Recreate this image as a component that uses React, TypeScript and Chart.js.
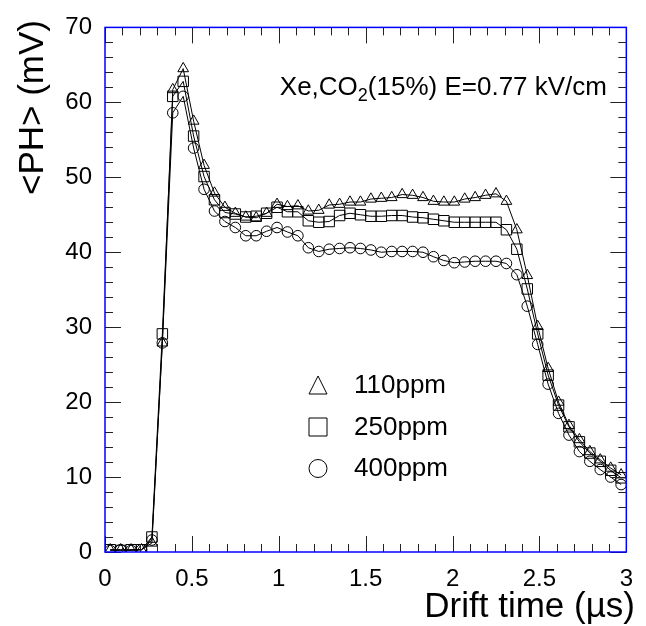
import { useEffect, useRef } from "react"
import { Chart, registerables } from "chart.js"

Chart.register(...registerables)

const FONT = '"Liberation Sans", Arial, Helvetica, sans-serif'

// drift time bin centres (µs)
const driftTime = [
  0.03, 0.09, 0.15, 0.21, 0.27, 0.33, 0.39, 0.45, 0.51, 0.57,
  0.63, 0.69, 0.75, 0.81, 0.87, 0.93, 0.99, 1.05, 1.11, 1.17,
  1.23, 1.29, 1.35, 1.41, 1.47, 1.53, 1.59, 1.65, 1.71, 1.77,
  1.83, 1.89, 1.95, 2.01, 2.07, 2.13, 2.19, 2.25, 2.31, 2.37,
  2.43, 2.49, 2.55, 2.61, 2.67, 2.73, 2.79, 2.85, 2.91, 2.97,
]

// <PH> (mV) for each O2 contamination
const ph110 = [
  0.3, 0.3, 0.3, 0.3, 1.2, 27.9, 61.7, 64.5, 57.5, 51.6,
  47.9, 46.0, 45.2, 44.7, 44.6, 45.2, 46.4, 46.1, 46.2, 45.5,
  45.6, 46.3, 46.4, 46.7, 46.7, 47.1, 47.2, 47.3, 47.7, 47.6,
  47.3, 46.8, 46.7, 46.7, 47.1, 47.3, 47.6, 47.8, 46.8, 43.0,
  36.9, 30.1, 24.5, 20.0, 16.9, 15.0, 13.4, 12.3, 11.2, 10.3,
]
const ph250 = [
  0.3, 0.2, 0.3, 0.3, 2.0, 29.1, 60.8, 62.8, 55.5, 50.1,
  47.0, 45.3, 45.1, 44.7, 44.8, 45.2, 46.0, 45.4, 45.4, 44.2,
  44.0, 44.1, 44.9, 45.2, 45.0, 44.8, 44.8, 44.9, 44.9, 44.7,
  44.6, 44.4, 44.2, 44.0, 44.0, 44.0, 44.0, 44.0, 43.0, 40.4,
  35.1, 29.1, 23.6, 19.6, 16.7, 14.7, 13.2, 12.1, 10.9, 9.9,
]
const ph400 = [
  0.2, 0.3, 0.2, 0.3, 1.6, 27.9, 58.6, 60.8, 53.9, 48.4,
  45.5, 44.1, 43.3, 42.2, 42.2, 42.8, 43.3, 42.7, 42.2, 40.6,
  40.1, 40.4, 40.5, 40.6, 40.5, 40.3, 40.0, 40.1, 40.1, 40.1,
  40.0, 39.4, 38.9, 38.6, 38.7, 38.8, 38.8, 38.8, 38.5, 37.0,
  32.8, 27.7, 22.4, 18.5, 15.6, 13.4, 12.1, 11.0, 10.0, 9.0,
]

const seriesLabels = ["110ppm", "250ppm", "400ppm"]
const xTickValues = [0, 0.5, 1, 1.5, 2, 2.5, 3]
const yTickValues = [0, 10, 20, 30, 40, 50, 60, 70]

const toPoints = (ys: number[]) => ys.map((y, i) => ({ x: driftTime[i], y }))

function drawMarker(ctx: CanvasRenderingContext2D, style: string, x: number, y: number, s: number) {
  ctx.beginPath()
  if (style === "triangle") {
    ctx.moveTo(x, y - s / 2)
    ctx.lineTo(x + s / 2, y + s / 2)
    ctx.lineTo(x - s / 2, y + s / 2)
    ctx.closePath()
  } else if (style === "rect") {
    ctx.rect(x - s / 2, y - s / 2, s, s)
  } else {
    ctx.arc(x, y, s / 2, 0, Math.PI * 2)
  }
  ctx.stroke()
}

const rootDecor = {
  id: "rootDecor",
  afterDraw(chart: any) {
    const { ctx, chartArea: a, scales } = chart
    const xs = scales.x
    const ys = scales.y
    ctx.save()

    // inward ticks on all four sides
    ctx.strokeStyle = "#222"
    ctx.lineWidth = 1
    ctx.beginPath()
    for (let i = 0; i <= 30; i++) {
      const px = Math.round(xs.getPixelForValue(i / 10)) + 0.5
      const len = i % 5 === 0 ? 16 : 8
      ctx.moveTo(px, a.bottom)
      ctx.lineTo(px, a.bottom - len)
      ctx.moveTo(px, a.top)
      ctx.lineTo(px, a.top + len)
    }
    for (let v = 0; v <= 70; v += 2) {
      const py = Math.round(ys.getPixelForValue(v)) + 0.5
      const len = v % 10 === 0 ? 16 : 8
      ctx.moveTo(a.left, py)
      ctx.lineTo(a.left + len, py)
      ctx.moveTo(a.right, py)
      ctx.lineTo(a.right - len, py)
    }
    ctx.stroke()

    // frame
    ctx.strokeStyle = "#0000ff"
    ctx.lineWidth = 1.5
    ctx.strokeRect(a.left, a.top, a.right - a.left, a.bottom - a.top)

    ctx.fillStyle = "#000"

    // axis titles
    ctx.font = `35px ${FONT}`
    ctx.textAlign = "right"
    ctx.textBaseline = "alphabetic"
    ctx.fillText("Drift time (\u00b5s)", 635, 617)

    ctx.save()
    ctx.translate(43, 20)
    ctx.rotate(-Math.PI / 2)
    ctx.fillText("<PH> (mV)", 0, 0)
    ctx.restore()

    // annotation: Xe,CO2(15%) E=0.77 kV/cm
    const part1 = "Xe,CO"
    const sub = "2"
    const part2 = "(15%) E=0.77 kV/cm"
    ctx.textAlign = "left"
    ctx.font = `26px ${FONT}`
    const w1 = ctx.measureText(part1).width
    const w3 = ctx.measureText(part2).width
    ctx.font = `18px ${FONT}`
    const w2 = ctx.measureText(sub).width
    let x0 = 607 - (w1 + w2 + w3)
    const base = 95
    ctx.font = `26px ${FONT}`
    ctx.fillText(part1, x0, base)
    x0 += w1
    ctx.font = `18px ${FONT}`
    ctx.fillText(sub, x0, base + 6)
    x0 += w2
    ctx.font = `26px ${FONT}`
    ctx.fillText(part2, x0, base)

    // legend
    const styles = ["triangle", "rect", "circle"]
    const markerY = [385, 427, 468.5]
    const textY = [393, 435, 476]
    ctx.strokeStyle = "#000"
    ctx.lineWidth = 1
    ctx.font = `26px ${FONT}`
    seriesLabels.forEach((label, i) => {
      drawMarker(ctx, styles[i], 318, markerY[i], 18)
      ctx.fillText(label, 354, textY[i])
    })

    ctx.restore()
  },
}

export default function App() {
  const chartRef = useRef<HTMLCanvasElement>(null)
  const chartInstance = useRef<Chart | null>(null)

  useEffect(() => {
    if (!chartRef.current) return
    if (chartInstance.current) chartInstance.current.destroy()

    const ctx = chartRef.current.getContext("2d")
    if (!ctx) return

    const common = {
      borderColor: "#000",
      borderWidth: 1,
      pointBorderColor: "#000",
      pointBorderWidth: 1,
      pointBackgroundColor: "rgba(0,0,0,0)",
      tension: 0,
      fill: false,
    }

    chartInstance.current = new Chart(ctx, {
      type: "line",
      data: {
        datasets: [
          { ...common, label: seriesLabels[0], data: toPoints(ph110), pointStyle: "triangle", pointRadius: 6.2 },
          { ...common, label: seriesLabels[1], data: toPoints(ph250), pointStyle: "rect", pointRadius: 7.4 },
          { ...common, label: seriesLabels[2], data: toPoints(ph400), pointStyle: "circle", pointRadius: 5.3 },
        ],
      },
      options: {
        animation: false,
        responsive: true,
        maintainAspectRatio: false,
        layout: { padding: { left: 0, right: 8, top: 20, bottom: 0 } },
        plugins: {
          legend: { display: false },
          tooltip: { enabled: false },
        },
        scales: {
          x: {
            type: "linear",
            min: 0,
            max: 3,
            grid: { display: false, drawTicks: false },
            border: { display: false },
            afterBuildTicks: (scale: any) => {
              scale.ticks = xTickValues.map((value) => ({ value }))
            },
            afterFit: (scale: any) => {
              scale.height = 74
            },
            ticks: {
              color: "#000",
              font: { family: FONT, size: 24 },
              padding: 13,
              maxRotation: 0,
              autoSkip: false,
              callback: (value: any) => String(value),
            },
          },
          y: {
            type: "linear",
            min: 0,
            max: 70,
            grid: { display: false, drawTicks: false },
            border: { display: false },
            afterBuildTicks: (scale: any) => {
              scale.ticks = yTickValues.map((value) => ({ value }))
            },
            afterFit: (scale: any) => {
              scale.width = 105
            },
            ticks: {
              color: "#000",
              font: { family: FONT, size: 24 },
              padding: 13,
              callback: (value: any) => String(value),
            },
          },
        },
      },
      plugins: [rootDecor],
    })

    return () => {
      if (chartInstance.current) {
        chartInstance.current.destroy()
        chartInstance.current = null
      }
    }
  }, [])

  return (
    <div style={{ position: "absolute", left: 0, top: 0, width: 646, height: 626, background: "#fff" }}>
      <canvas ref={chartRef} />
    </div>
  )
}
